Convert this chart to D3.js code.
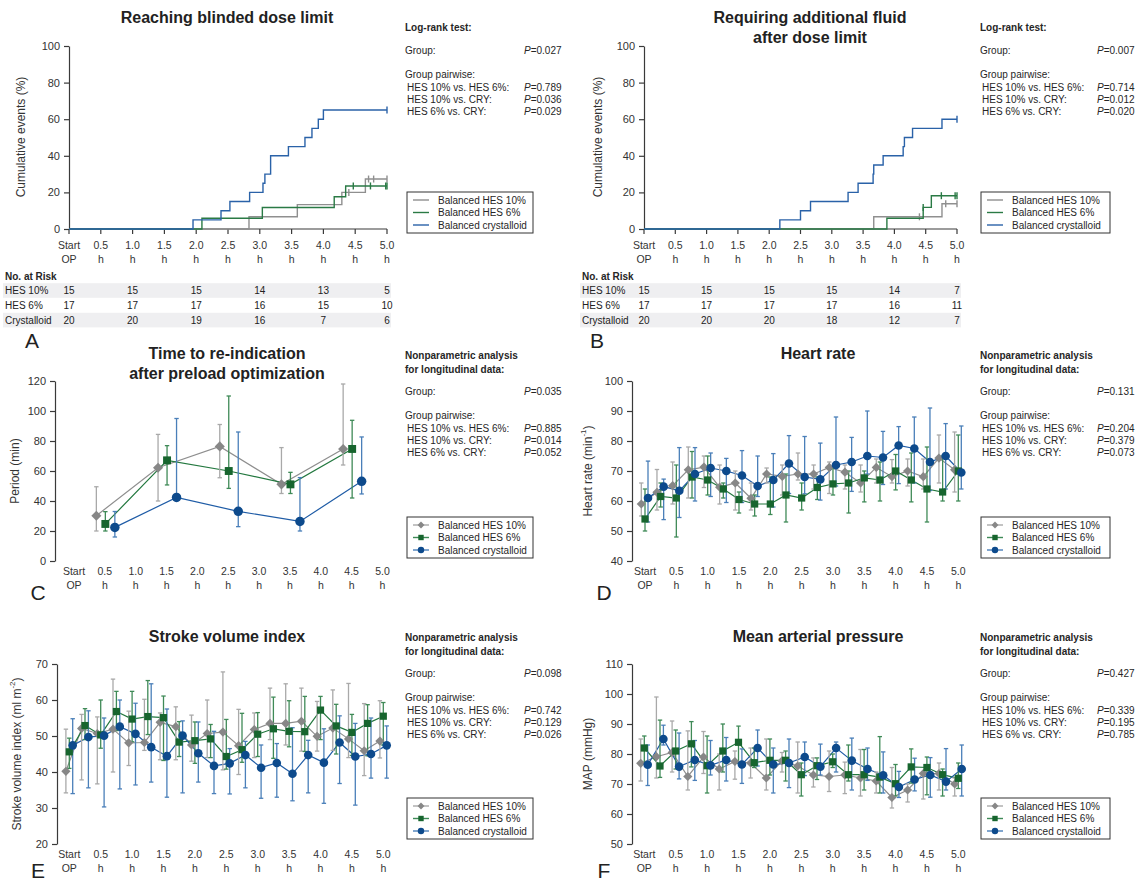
<!DOCTYPE html>
<html><head><meta charset="utf-8">
<script src="https://cdn.jsdelivr.net/npm/d3@7"></script>
<style>
body{margin:0;background:#fff}
svg{display:block}
text{font-family:"Liberation Sans",Arial,Helvetica,sans-serif}
</style>
</head><body>
<svg id="fig" width="1136" height="883"></svg>
<script>
// ---------- shared labels ----------
const groupNames = ["Balanced HES 10%", "Balanced HES 6%", "Balanced crystalloid"];
const timeTicks = [0, 0.5, 1, 1.5, 2, 2.5, 3, 3.5, 4, 4.5, 5];
const tickTop = ["Start", "0.5", "1.0", "1.5", "2.0", "2.5", "3.0", "3.5", "4.0", "4.5", "5.0"];
const tickBottom = ["OP", "h", "h", "h", "h", "h", "h", "h", "h", "h", "h"];
const pairLabels = ["HES 10% vs. HES 6%:", "HES 10% vs. CRY:", "HES 6% vs. CRY:"];

// ---------- A: reaching blinded dose limit (cumulative events, %) ----------
const kmA_hes10_t = [2.83, 3.59, 4.29, 4.66];
const kmA_hes10_y = [6.67, 13.33, 20.0, 27.3];
const kmA_hes10_cens = [4.40, 4.71, 4.79, 5.0];
const kmA_hes6_t = [2.09, 3.04, 4.17, 4.35];
const kmA_hes6_y = [5.88, 11.76, 17.65, 23.53];
const kmA_hes6_cens = [4.47, 4.74, 4.98, 5.0];
const kmA_cry_t = [1.95, 2.39, 2.53, 2.84, 3.05, 3.08, 3.17, 3.45, 3.71, 3.82, 3.92, 4.0];
const kmA_cry_y = [5, 10, 15, 20, 25, 30, 40, 45, 50, 55, 60, 65];
const kmA_cry_cens = [5.0];
const riskTimes = [0, 1, 2, 3, 4, 5];
const riskRowNames = ["HES 10%", "HES 6%", "Crystalloid"];
const riskA_hes10 = [15, 15, 15, 14, 13, 5];
const riskA_hes6 = [17, 17, 17, 16, 15, 10];
const riskA_cry = [20, 20, 19, 16, 7, 6];
const pA_group = "0.027";
const pA_pairs = ["0.789", "0.036", "0.029"];

// ---------- B: requiring additional fluid after dose limit ----------
const kmB_hes10_t = [3.67, 4.76];
const kmB_hes10_y = [6.67, 13.8];
const kmB_hes10_cens = [4.40, 4.82, 5.0];
const kmB_hes6_t = [3.88, 4.46, 4.59];
const kmB_hes6_y = [5.9, 11.8, 18.2];
const kmB_hes6_cens = [4.46, 4.75, 4.97, 5.0];
const kmB_cry_t = [2.17, 2.5, 2.66, 3.26, 3.42, 3.66, 3.67, 3.82, 4.14, 4.16, 4.29, 4.76];
const kmB_cry_y = [5, 10, 15, 20, 25, 30, 35, 40, 45, 50, 55, 60];
const kmB_cry_cens = [5.0];
const riskB_hes10 = [15, 15, 15, 15, 14, 7];
const riskB_hes6 = [17, 17, 17, 17, 16, 11];
const riskB_cry = [20, 20, 20, 18, 12, 7];
const pB_group = "0.007";
const pB_pairs = ["0.714", "0.012", "0.020"];

// ---------- C: time to re-indication (min) ----------
const reindTimes = [0.5, 1.5, 2.5, 3.5, 4.5];
const reind_hes10 = [30.2, 62.2, 76.4, 51.1, 74.7];
const reind_hes10_lo = [20, 40, 55.5, 45, 64];
const reind_hes10_hi = [49.5, 84.4, 91, 75.6, 118];
const reind_hes6 = [24.7, 67.1, 60, 51.1, 74.7];
const reind_hes6_lo = [20, 50.7, 48.4, 45, 42];
const reind_hes6_hi = [32.9, 76.9, 110, 59.1, 93.8];
const reind_cry = [22.4, 42.4, 33.1, 26.4, 53.1];
const reind_cry_lo = [16, 42, 22.9, 20, 44.7];
const reind_cry_hi = [33, 95, 86, 55.6, 82.7];
const pC_group = "0.035";
const pC_pairs = ["0.885", "0.014", "0.052"];

// ---------- D/E/F: measurement times every 15 min ----------
const measTimes = [0, 0.25, 0.5, 0.75, 1, 1.25, 1.5, 1.75, 2, 2.25, 2.5, 2.75, 3, 3.25, 3.5, 3.75, 4, 4.25, 4.5, 4.75, 5];

// D: heart rate (min^-1)
const hr_hes10 = [59.0, 62.9, 65.1, 70.4, 71.3, 64.6, 66.0, 60.9, 69.0, 68.2, 69.0, 69.0, 71.2, 69.6, 66.0, 71.2, 68.1, 70.0, 68.1, 74.3, 70.4];
const hr_hes10_lo = [55, 57, 59, 61, 64.5, 59, 57, 57, 66, 62, 67, 64, 62.5, 64, 63, 66, 66, 65, 64, 66, 63];
const hr_hes10_hi = [66, 70.5, 73, 78, 75, 72, 70, 66, 71, 72, 76, 72, 73, 72, 72, 74, 73.8, 74, 74, 82, 83];
const hr_hes6 = [54, 61.5, 61, 68, 67, 64, 60.5, 59, 59, 62, 61, 64.5, 65.7, 66, 67.7, 67, 70, 67, 64, 63, 70];
const hr_hes6_lo = [50, 58, 48, 61, 62, 61, 56, 55, 55.5, 53, 57, 60.5, 62, 56, 59.7, 60, 63.7, 59.7, 53, 60, 60];
const hr_hes6_hi = [64, 66, 72, 76.5, 75, 66, 63, 62, 68, 69, 66, 68, 71, 70, 70, 73, 75.5, 76, 78, 75, 82];
const hr_cry = [61, 64.8, 63.4, 69, 71, 70, 68.5, 65, 67, 72.5, 68, 67.2, 72, 73, 75, 74.5, 78.5, 77.5, 73, 75, 69.5];
const hr_cry_lo = [53, 53.8, 54.5, 60, 61.5, 59.5, 59.5, 61.5, 58, 62.5, 62.4, 60.3, 65, 63.2, 69, 65.5, 65.8, 66, 63.5, 64, 64];
const hr_cry_hi = [73.3, 67.3, 77.8, 77.8, 76, 74.2, 76.8, 75, 75.8, 81.8, 81.5, 79.3, 88, 81.2, 90, 83.2, 84.8, 88, 91, 85.8, 85];
const pD_group = "0.131";
const pD_pairs = ["0.204", "0.379", "0.073"];

// E: stroke volume index (ml m^-2)
const svi_hes10 = [40.2, 52.1, 50.7, 51.9, 48.1, 48.2, 53.8, 52.6, 47.5, 50.7, 51.1, 47.3, 51.8, 53.5, 53.5, 54.1, 49.9, 52.2, 49.2, 45.9, 48.6];
const svi_hes10_lo = [34.2, 37.8, 36.7, 40, 41.8, 46, 43.4, 43.4, 43, 44, 40.6, 39.3, 44, 49, 47.5, 45.8, 45.8, 46, 44, 39, 43.9];
const svi_hes10_hi = [51.9, 56, 55.3, 65.8, 56.9, 60.2, 56.4, 58.1, 55.8, 60, 67.8, 57.4, 56.4, 63.3, 64.5, 63.3, 59.6, 62.8, 64.6, 59, 59.8];
const svi_hes6 = [45.6, 52.9, 50.3, 56.8, 54.7, 55.4, 55.1, 48.3, 48.7, 49.2, 44.3, 46.2, 50.5, 52, 51.3, 51.2, 57.2, 52.8, 51, 53.5, 55.5];
const svi_hes6_lo = [41, 49, 46.6, 51.5, 48.4, 50.4, 43.2, 44.3, 42.4, 44, 40.8, 42.7, 44.3, 43.8, 47, 45.7, 49, 45, 44.6, 44.5, 47.5];
const svi_hes6_hi = [49.4, 57.6, 60, 62.4, 62.4, 65.4, 61.1, 54, 53.9, 53.2, 54.6, 56.3, 56.5, 60.8, 59.8, 61, 61, 58.8, 56, 58.7, 59.3];
const svi_cry = [47.4, 49.7, 50.1, 52.6, 50.6, 46.9, 44.4, 50.1, 45.2, 41.7, 42.4, 44.7, 41.2, 42.5, 39.5, 44.7, 42.6, 48.2, 44.3, 45, 47.4];
const svi_cry_lo = [34, 35.6, 30.3, 35.3, 36.4, 37.2, 33, 34.2, 37.2, 34, 33.9, 35.6, 32.7, 33, 32, 34.2, 31.3, 36.8, 30.8, 38.3, 38.3];
const svi_cry_hi = [54.8, 57, 55, 60, 59.1, 64.5, 57.5, 54.2, 53.9, 51.3, 46.5, 48.5, 47.5, 47.9, 52.3, 48.8, 52, 55.6, 53.5, 55, 52.8];
const pE_group = "0.098";
const pE_pairs = ["0.742", "0.129", "0.026"];

// F: mean arterial pressure (mmHg)
const map_hes10 = [76.9, 79.1, 80.5, 72.5, 79, 75, 77.5, 77, 72, 77.7, 76, 73, 72.5, 73, 72, 71, 65.5, 68, 73.5, 73.5, 70];
const map_hes10_lo = [71, 72, 74, 68, 73.5, 68, 71.6, 72, 68, 74, 67, 69, 67.5, 66.8, 66, 67, 62, 64, 65, 68, 66];
const map_hes10_hi = [85, 99, 91, 87.7, 87.5, 80, 81, 82, 85, 80.5, 84, 78.7, 81, 77.3, 81.5, 74, 75.5, 70, 74, 77, 72];
const map_hes6 = [82, 76, 81, 83.4, 76.1, 81, 83.9, 77.1, 77.9, 77.9, 73.1, 76.1, 77.4, 73.1, 73.1, 72.3, 70.1, 75.7, 75.5, 73.1, 71.9];
const map_hes6_lo = [77, 72.2, 75, 75.7, 67, 74, 77, 75.5, 73, 71, 66, 71.5, 75.5, 71, 68, 67, 66, 70.3, 66.4, 66, 68.5];
const map_hes6_hi = [86, 91.3, 88, 90.8, 86, 90, 89.3, 82, 85, 81, 77, 78.7, 80, 83, 81.5, 85.8, 76.5, 81.7, 79, 75, 77];
const map_cry = [76.4, 85, 75.8, 78, 76.2, 78, 76.5, 82, 76.5, 77, 79, 75.8, 82, 77.8, 75, 72.9, 69, 71.5, 73, 70.8, 75];
const map_cry_lo = [69.5, 83, 71.7, 71.2, 73, 71, 70.2, 76, 67, 68.8, 72.8, 73, 74, 68, 71.2, 67, 65.5, 67.7, 65.6, 68, 66];
const map_cry_hi = [83, 89.6, 87, 84.5, 84.5, 85.5, 81.7, 88, 82, 85, 84, 83.3, 84, 85.3, 82, 80.7, 74.2, 78.6, 78.8, 81.8, 83];
const pF_group = "0.427";
const pF_pairs = ["0.339", "0.195", "0.785"];

// ---------- styling ----------
const col = {
  hes10: {line: "#8e8e8e", mark: "#878787", err: "#a9a9a9", km: "#8f8f8f"},
  hes6:  {line: "#23783f", mark: "#17652e", err: "#3f8a57", km: "#2a7a45"},
  cry:   {line: "#1f5ca6", mark: "#0d4a8c", err: "#4a7fb9", km: "#2a62a8"}
};
const keys = ["hes10", "hes6", "cry"];
const axisColor = "#3a3a3a";
const textColor = "#262626";

const svg = d3.select("#fig");

function txt(g, x, y, s, opts = {}) {
  return g.append("text").attr("x", x).attr("y", y).text(s)
    .attr("font-size", opts.size || 10)
    .attr("font-weight", opts.bold ? "bold" : null)
    .attr("text-anchor", opts.anchor || "start")
    .attr("dominant-baseline", "central")
    .attr("fill", opts.fill || textColor);
}

function title(lines, cx, y0) {
  lines.forEach((s, i) => txt(svg, cx, y0 + i * 20, s, {size: 16, bold: true, anchor: "middle", fill: "#222"}));
}

function yAxis(x, y, ticks, axisX, tickFmt) {
  const g = svg.append("g").attr("transform", `translate(${axisX},0)`)
    .call(d3.axisLeft(y).tickValues(ticks).tickSize(5).tickSizeOuter(0).tickPadding(4).tickFormat(tickFmt || d3.format("d")));
  g.select(".domain").attr("stroke", axisColor).attr("stroke-width", 1.2);
  g.selectAll(".tick line").attr("stroke", axisColor).attr("stroke-width", 1.2);
  g.selectAll(".tick text").attr("font-size", 11).attr("fill", "#333")
    .attr("font-family", '"Liberation Sans",Arial,sans-serif');
}

function timeLabels(x, yTop) {
  const g = svg.append("g");
  timeTicks.forEach((t, i) => {
    txt(g, x(t), yTop, tickTop[i], {size: 10.5, anchor: "middle", fill: "#333"});
    txt(g, x(t), yTop + 14, tickBottom[i], {size: 10.5, anchor: "middle", fill: "#333"});
  });
}

function yLabel(s, x, cy, sup) {
  const t = svg.append("text").attr("transform", `translate(${x},${cy}) rotate(-90)`)
    .attr("text-anchor", "middle").attr("dominant-baseline", "central")
    .attr("font-size", 12).attr("fill", "#333");
  t.append("tspan").text(s);
  if (sup) {
    t.append("tspan").text(sup).attr("font-size", 8).attr("dy", -5);
    t.append("tspan").text(")").attr("dy", 5);
  }
}

function stats(x, pX, y0, header, group, pairs) {
  const g = svg.append("g");
  let y = y0;
  header.forEach((h, i) => { txt(g, x, y, h, {size: 10, bold: true}); y += 14; });
  y += header.length === 1 ? 9 : 8;
  txt(g, x, y, "Group:");
  pText(g, pX, y, group);
  y += 24;
  txt(g, x, y, "Group pairwise:");
  pairs.forEach((p, i) => {
    txt(g, x + 2, y + 13 + i * 12, pairLabels[i]);
    pText(g, pX, y + 13 + i * 12, p);
  });
}
function pText(g, x, y, v) {
  const t = txt(g, x, y, "");
  t.append("tspan").text("P").attr("font-style", "italic");
  t.append("tspan").text("=" + v);
}

function legend(x, y, w, withMarkers) {
  const g = svg.append("g").attr("transform", `translate(${x},${y})`);
  g.append("rect").attr("width", w).attr("height", 41).attr("fill", "#fff")
    .attr("stroke", "#333").attr("stroke-width", 1);
  keys.forEach((k, i) => {
    const yy = 8 + i * 12.5;
    g.append("line").attr("x1", 6).attr("x2", 22).attr("y1", yy).attr("y2", yy)
      .attr("stroke", withMarkers ? col[k].err : col[k].km).attr("stroke-width", 1.4);
    if (withMarkers) marker(g, k, 14, yy, 0.75);
    txt(g, 31, yy, groupNames[i], {size: 10});
  });
}

function marker(g, k, x, y, s) {
  if (k === "hes10") {
    const r = 4.6 * s;
    g.append("path").attr("d", `M${x},${y - r}L${x + r},${y}L${x},${y + r}L${x - r},${y}Z`).attr("fill", col[k].mark);
  } else if (k === "hes6") {
    const h = 3.6 * s;
    g.append("rect").attr("x", x - h).attr("y", y - h).attr("width", 2 * h).attr("height", 2 * h).attr("fill", col[k].mark);
  } else {
    g.append("circle").attr("cx", x).attr("cy", y).attr("r", 4.3 * s).attr("fill", col[k].mark);
  }
}

function panelLetter(s, x, y) {
  txt(svg, x, y, s, {size: 21, anchor: "middle", fill: "#222"});
}

// ---------- Kaplan–Meier style cumulative panel ----------
function kmPanel(cfg) {
  const x = d3.scaleLinear().domain([0, 5]).range([cfg.x0, cfg.x1]);
  const y = d3.scaleLinear().domain([0, 100]).range([cfg.yBot, cfg.yTop]);
  yAxis(x, y, [0, 20, 40, 60, 80, 100], cfg.x0);
  // time axis
  const ax = svg.append("g");
  ax.append("line").attr("x1", cfg.x0).attr("x2", cfg.x1).attr("y1", y(0)).attr("y2", y(0))
    .attr("stroke", axisColor).attr("stroke-width", 1.2);
  ax.selectAll("line.tk").data(timeTicks).join("line").attr("class", "tk")
    .attr("x1", d => x(d)).attr("x2", d => x(d)).attr("y1", y(0)).attr("y2", y(0) + 5)
    .attr("stroke", axisColor).attr("stroke-width", 1.2);
  timeLabels(x, cfg.yBot + 16);

  const line = d3.line().x(d => x(d[0])).y(d => y(d[1])).curve(d3.curveStepAfter);
  cfg.series.forEach(s => {
    const pts = [[0, 0]].concat(s.t.map((t, i) => [t, s.y[i]]));
    pts.push([5, s.y[s.y.length - 1]]);
    svg.append("path").datum(pts).attr("d", line).attr("fill", "none")
      .attr("stroke", col[s.key].km).attr("stroke-width", 1.4);
    const stepVal = t => { let v = 0; s.t.forEach((tt, i) => { if (tt <= t) v = s.y[i]; }); return v; };
    svg.append("g").selectAll("line").data(s.cens).join("line")
      .attr("x1", d => x(d)).attr("x2", d => x(d))
      .attr("y1", d => y(stepVal(d)) - 3.5).attr("y2", d => y(stepVal(d)) + 3.5)
      .attr("stroke", col[s.key].km).attr("stroke-width", 1.4);
  });

  // risk table
  const rt = svg.append("g");
  txt(rt, cfg.tableX, cfg.tableY, "No. at Risk", {size: 10, bold: true});
  cfg.risk.forEach((row, i) => {
    const yy = cfg.tableY + 14.5 + i * 14.8;
    if (i !== 1) rt.append("rect").attr("x", cfg.tableX - 2).attr("y", yy - 7.3)
      .attr("width", cfg.x1 + 6 - cfg.tableX).attr("height", 14.6).attr("fill", "#efeff1");
    txt(rt, cfg.tableX, yy, riskRowNames[i], {size: 10, fill: "#222"});
    riskTimes.forEach((t, j) => txt(rt, x(t), yy, String(row[j]), {size: 10, anchor: "middle", fill: "#222"}));
  });
}

// ---------- longitudinal mean / error bar panel ----------
function longPanel(cfg) {
  const x = d3.scaleLinear().domain([0, 5]).range([cfg.x0, cfg.x1]);
  const y = d3.scaleLinear().domain(cfg.yDomain).range([cfg.yBot, cfg.yTop]);
  yAxis(x, y, cfg.yTicks, cfg.axisX);
  timeLabels(x, cfg.yBot + 10);
  const line = d3.line().x(d => d.x).y(d => y(d.v));
  cfg.series.forEach((s, si) => {
    const k = keys[si];
    const pts = cfg.times.map((t, i) => ({x: x(t) + cfg.offsets[si], v: s.mean[i], lo: s.lo[i], hi: s.hi[i]}));
    svg.append("path").datum(pts).attr("d", line).attr("fill", "none")
      .attr("stroke", col[k].line).attr("stroke-width", 1.2);
    s.pts = pts;
  });
  cfg.series.forEach((s, si) => {
    const k = keys[si];
    const g = svg.append("g").attr("stroke", col[k].err).attr("stroke-width", 1.3);
    s.pts.forEach(p => {
      g.append("line").attr("x1", p.x).attr("x2", p.x).attr("y1", y(p.lo)).attr("y2", y(p.hi));
      [p.lo, p.hi].forEach(v => g.append("line").attr("x1", p.x - 2.2).attr("x2", p.x + 2.2).attr("y1", y(v)).attr("y2", y(v)));
    });
  });
  cfg.series.forEach((s, si) => {
    const g = svg.append("g");
    s.pts.forEach(p => marker(g, keys[si], p.x, y(p.v), cfg.markScale || 1));
  });
}

// ---------- panel A ----------
title(["Reaching blinded dose limit"], 227, 17);
yLabel("Cumulative events (%)", 21, 137);
kmPanel({
  x0: 69, x1: 387, yTop: 46, yBot: 229, tableX: 5, tableY: 276,
  series: [
    {key: "hes10", t: kmA_hes10_t, y: kmA_hes10_y, cens: kmA_hes10_cens},
    {key: "hes6", t: kmA_hes6_t, y: kmA_hes6_y, cens: kmA_hes6_cens},
    {key: "cry", t: kmA_cry_t, y: kmA_cry_y, cens: kmA_cry_cens}
  ],
  risk: [riskA_hes10, riskA_hes6, riskA_cry]
});
stats(405, 524, 27, ["Log-rank test:"], pA_group, pA_pairs);
legend(407, 192, 126, false);
panelLetter("A", 32, 340);

// ---------- panel B ----------
title(["Requiring additional fluid", "after dose limit"], 810, 17);
yLabel("Cumulative events (%)", 598, 137);
kmPanel({
  x0: 644, x1: 957, yTop: 46, yBot: 229, tableX: 582, tableY: 276,
  series: [
    {key: "hes10", t: kmB_hes10_t, y: kmB_hes10_y, cens: kmB_hes10_cens},
    {key: "hes6", t: kmB_hes6_t, y: kmB_hes6_y, cens: kmB_hes6_cens},
    {key: "cry", t: kmB_cry_t, y: kmB_cry_y, cens: kmB_cry_cens}
  ],
  risk: [riskB_hes10, riskB_hes6, riskB_cry]
});
stats(980, 1097, 27, ["Log-rank test:"], pB_group, pB_pairs);
legend(981, 192, 129, false);
panelLetter("B", 597, 340);

// ---------- panel C ----------
title(["Time to re-indication", "after preload optimization"], 227, 353);
yLabel("Period (min)", 15, 471);
longPanel({
  x0: 74, x1: 382.5, yTop: 381, yBot: 561, axisX: 55,
  yDomain: [0, 120], yTicks: [0, 20, 40, 60, 80, 100, 120],
  times: reindTimes, offsets: [-8.5, 0.5, 10], markScale: 1.1,
  series: [
    {mean: reind_hes10, lo: reind_hes10_lo, hi: reind_hes10_hi},
    {mean: reind_hes6, lo: reind_hes6_lo, hi: reind_hes6_hi},
    {mean: reind_cry, lo: reind_cry_lo, hi: reind_cry_hi}
  ]
});
stats(405, 524, 355, ["Nonparametric analysis", "for longitudinal data:"], pC_group, pC_pairs);
legend(407, 517, 126, true);
panelLetter("C", 38, 592);

// ---------- panel D ----------
title(["Heart rate"], 818, 353);
yLabel("Heart rate (min", 588, 471, "-1");
longPanel({
  x0: 645, x1: 958.3, yTop: 381, yBot: 561, axisX: 632,
  yDomain: [40, 100], yTicks: [40, 50, 60, 70, 80, 90, 100],
  times: measTimes, offsets: [-3.7, 0, 3],
  series: [
    {mean: hr_hes10, lo: hr_hes10_lo, hi: hr_hes10_hi},
    {mean: hr_hes6, lo: hr_hes6_lo, hi: hr_hes6_hi},
    {mean: hr_cry, lo: hr_cry_lo, hi: hr_cry_hi}
  ]
});
stats(980, 1097, 355, ["Nonparametric analysis", "for longitudinal data:"], pD_group, pD_pairs);
legend(981, 517, 129, true);
panelLetter("D", 604, 592);

// ---------- panel E ----------
title(["Stroke volume index"], 227, 636);
yLabel("Stroke volume index (ml m", 17, 754, "-2");
longPanel({
  x0: 69.3, x1: 383.3, yTop: 664, yBot: 844, axisX: 57,
  yDomain: [20, 70], yTicks: [20, 30, 40, 50, 60, 70],
  times: measTimes, offsets: [-3.4, 0, 3.4],
  series: [
    {mean: svi_hes10, lo: svi_hes10_lo, hi: svi_hes10_hi},
    {mean: svi_hes6, lo: svi_hes6_lo, hi: svi_hes6_hi},
    {mean: svi_cry, lo: svi_cry_lo, hi: svi_cry_hi}
  ]
});
stats(405, 524, 637, ["Nonparametric analysis", "for longitudinal data:"], pE_group, pE_pairs);
legend(407, 798, 126, true);
panelLetter("E", 38, 870);

// ---------- panel F ----------
title(["Mean arterial pressure"], 818, 636);
yLabel("MAP (mmHg)", 588, 754);
longPanel({
  x0: 644.3, x1: 958.3, yTop: 664, yBot: 844, axisX: 632,
  yDomain: [50, 110], yTicks: [50, 60, 70, 80, 90, 100, 110],
  times: measTimes, offsets: [-3.6, 0, 3.4],
  series: [
    {mean: map_hes10, lo: map_hes10_lo, hi: map_hes10_hi},
    {mean: map_hes6, lo: map_hes6_lo, hi: map_hes6_hi},
    {mean: map_cry, lo: map_cry_lo, hi: map_cry_hi}
  ]
});
stats(980, 1097, 637, ["Nonparametric analysis", "for longitudinal data:"], pF_group, pF_pairs);
legend(981, 798, 129, true);
panelLetter("F", 604, 870);
</script>
</body></html>
